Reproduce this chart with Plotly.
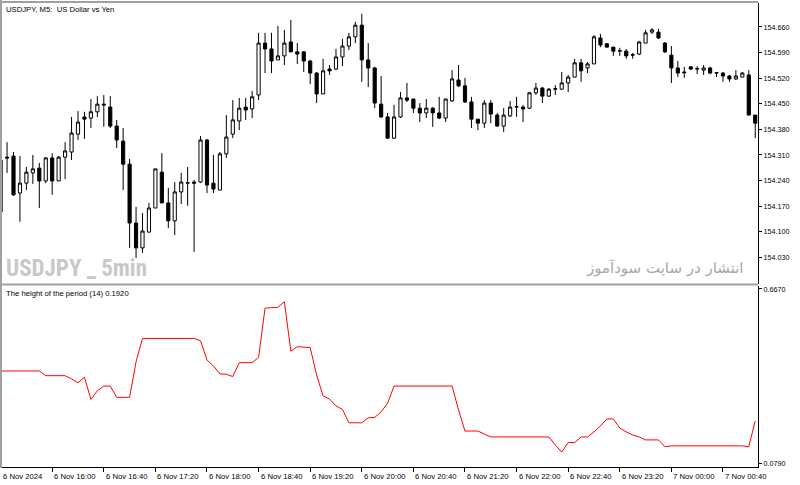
import plotly.graph_objects as go

# ---------------- data ----------------
open_ = [154.154,154.304,154.307,154.206,154.233,154.261,154.274,154.239,154.302,154.239,
         154.304,154.318,154.367,154.414,154.411,154.428,154.449,154.441,154.389,154.348,
         154.285,154.124,154.056,154.099,154.165,154.263,154.179,154.130,154.209,154.233,
         154.236,154.236,154.351,154.233,154.214,154.313,154.367,154.403,154.441,154.436,
         154.474,154.616,154.600,154.570,154.581,154.619,154.592,154.592,154.567,154.534,
         154.477,154.545,154.545,154.578,154.608,154.633,154.665,154.570,154.548,154.449,
         154.414,154.356,154.414,154.466,154.463,154.438,154.425,154.438,154.425,154.411,
         154.458,154.515,154.499,154.455,154.408,154.397,154.452,154.419,154.389,154.417,
         154.441,154.441,154.438,154.480,154.493,154.471,154.490,154.490,154.507,154.523,
         154.562,154.548,154.559,154.630,154.614,154.605,154.594,154.594,154.583,154.586,
         154.616,154.646,154.646,154.616,154.583,154.548,154.537,154.551,154.545,154.542,
         154.548,154.534,154.534,154.526,154.518,154.523,154.529,154.419]
high = [154.310,154.345,154.318,154.307,154.277,154.310,154.288,154.304,154.315,154.307,
        154.345,154.414,154.430,154.428,154.463,154.471,154.474,154.471,154.406,154.384,
        154.299,154.168,154.151,154.179,154.272,154.315,154.220,154.236,154.261,154.277,
        154.242,154.362,154.354,154.310,154.318,154.419,154.460,154.466,154.466,154.485,
        154.644,154.644,154.644,154.663,154.652,154.679,154.616,154.594,154.570,154.537,
        154.573,154.556,154.600,154.627,154.644,154.674,154.696,154.616,154.551,154.526,
        154.425,154.447,154.482,154.507,154.463,154.452,154.463,154.441,154.469,154.463,
        154.542,154.556,154.521,154.469,154.408,154.460,154.460,154.425,154.438,154.458,
        154.469,154.447,154.482,154.507,154.496,154.493,154.501,154.537,154.529,154.573,
        154.573,154.564,154.638,154.641,154.616,154.605,154.603,154.600,154.589,154.622,
        154.652,154.657,154.655,154.619,154.608,154.567,154.551,154.553,154.553,154.556,
        154.551,154.537,154.537,154.529,154.542,154.537,154.542,154.419]
low = [154.151,154.261,154.198,154.127,154.214,154.231,154.165,154.233,154.201,154.239,
       154.244,154.296,154.351,154.354,154.384,154.414,154.387,154.384,154.329,154.214,
       154.056,154.028,154.042,154.099,154.165,154.179,154.110,154.091,154.176,154.171,
       154.045,154.233,154.206,154.206,154.214,154.302,154.356,154.378,154.406,154.411,
       154.460,154.534,154.534,154.570,154.556,154.592,154.559,154.537,154.504,154.452,
       154.477,154.529,154.542,154.553,154.597,154.616,154.510,154.496,154.438,154.411,
       154.354,154.354,154.411,154.455,154.425,154.400,154.411,154.387,154.408,154.400,
       154.455,154.496,154.452,154.384,154.378,154.384,154.397,154.387,154.373,154.414,
       154.414,154.400,154.436,154.474,154.452,154.469,154.474,154.488,154.482,154.523,
       154.510,154.534,154.559,154.605,154.603,154.581,154.581,154.573,154.573,154.583,
       154.616,154.641,154.627,154.589,154.507,154.523,154.521,154.542,154.531,154.529,
       154.531,154.523,154.510,154.510,154.515,154.523,154.419,154.356]
close = [154.296,154.302,154.201,154.233,154.263,154.272,154.239,154.302,154.239,154.304,
         154.321,154.370,154.400,154.408,154.428,154.449,154.447,154.389,154.351,154.285,
         154.124,154.056,154.102,154.165,154.272,154.179,154.130,154.209,154.236,154.234,
         154.233,154.351,154.228,154.217,154.313,154.359,154.406,154.438,154.433,154.469,
         154.616,154.600,154.567,154.581,154.616,154.592,154.586,154.567,154.534,154.477,
         154.540,154.540,154.578,154.608,154.633,154.665,154.570,154.548,154.452,154.414,
         154.356,154.414,154.466,154.460,154.438,154.425,154.438,154.425,154.411,154.463,
         154.518,154.499,154.455,154.408,154.397,154.452,154.422,154.389,154.419,154.441,
         154.442,154.436,154.480,154.493,154.471,154.490,154.491,154.507,154.523,154.562,
         154.540,154.559,154.633,154.611,154.605,154.594,154.595,154.581,154.584,154.619,
         154.644,154.652,154.630,154.592,154.548,154.534,154.535,154.545,154.546,154.548,
         154.534,154.535,154.526,154.518,154.526,154.534,154.419,154.397]
period_height = [0.390,0.390,0.390,0.390,0.390,0.390,0.390,0.374,0.374,0.374,
                 0.374,0.363,0.350,0.369,0.294,0.323,0.339,0.339,0.301,0.301,
                 0.301,0.421,0.500,0.500,0.500,0.500,0.500,0.500,0.500,0.500,
                 0.500,0.492,0.427,0.407,0.380,0.379,0.371,0.418,0.418,0.418,
                 0.436,0.602,0.604,0.605,0.624,0.457,0.472,0.471,0.469,0.376,
                 0.306,0.295,0.272,0.260,0.215,0.215,0.215,0.232,0.233,0.252,
                 0.281,0.339,0.339,0.339,0.339,0.339,0.339,0.339,0.339,0.339,
                 0.339,0.258,0.187,0.187,0.187,0.177,0.167,0.167,0.167,0.167,
                 0.167,0.167,0.167,0.167,0.167,0.167,0.140,0.116,0.148,0.148,
                 0.167,0.167,0.184,0.204,0.228,0.228,0.197,0.184,0.174,0.167,
                 0.157,0.157,0.157,0.134,0.137,0.137,0.137,0.137,0.137,0.137,
                 0.137,0.137,0.137,0.137,0.137,0.137,0.134,0.221]

time_tick_bars = [0, 8, 16, 24, 32, 40, 48, 56, 64, 72, 80, 88, 96, 104, 112]
time_tick_labels = ["6 Nov 2024", "6 Nov 16:00", "6 Nov 16:40", "6 Nov 17:20", "6 Nov 18:00",
                    "6 Nov 18:40", "6 Nov 19:20", "6 Nov 20:00", "6 Nov 20:40", "6 Nov 21:20",
                    "6 Nov 22:00", "6 Nov 22:40", "6 Nov 23:20", "7 Nov 00:00", "7 Nov 00:40"]
price_ticks = [154.030, 154.100, 154.170, 154.240, 154.310, 154.380, 154.450, 154.520, 154.590, 154.660]
ind_ticks = [0.0790, 0.6670]

bars = list(range(len(open_)))

# ---------------- geometry ----------------
W, H = 800, 485
ML, MR, MT, MB = 2, 42, 3, 18
PW = W - ML - MR
PH = H - MT - MB
def py(p):  # pixel y -> paper y
    return (H - MB - p) / PH
def px(p):
    return (p - ML) / PW

FONT = "Liberation Sans, Arial, sans-serif"
TXT = 7.7
xr = [0.217, 117.43]
def bar_to_paper(b):
    return (b - xr[0]) / (xr[1] - xr[0])

fig = go.Figure()
fig.add_trace(go.Candlestick(
    x=bars, open=open_, high=high, low=low, close=close,
    increasing=dict(fillcolor="white", line=dict(color="black", width=1)),
    decreasing=dict(fillcolor="black", line=dict(color="black", width=1)),
    whiskerwidth=0, xaxis="x", yaxis="y", showlegend=False, hoverinfo="skip"))
fig.add_trace(go.Scatter(
    x=bars, y=period_height, mode="lines", line=dict(color="#ff0000", width=1),
    xaxis="x2", yaxis="y2", showlegend=False, hoverinfo="skip"))

annotations = []
for b, lab in zip(time_tick_bars, time_tick_labels):
    annotations.append(dict(x=bar_to_paper(b), xref="paper", y=0, yref="paper", yanchor="top",
                            xanchor="left", xshift=0, yshift=-3, text=lab, showarrow=False,
                            font=dict(family=FONT, size=TXT, color="black")))
annotations += [
    dict(x=px(4), xref="paper", y=py(3), yref="paper", xanchor="left", yanchor="top",
         text="USDJPY, M5:\u00a0\u00a0US Dollar vs Yen", showarrow=False,
         font=dict(family=FONT, size=TXT, color="black")),
    dict(x=px(4), xref="paper", y=py(287), yref="paper", xanchor="left", yanchor="top",
         text="The height of the period (14) 0.1920", showarrow=False,
         font=dict(family=FONT, size=TXT, color="black")),
    dict(x=px(4), xref="paper", y=py(268), yref="paper", xanchor="left", yanchor="middle",
         text="<b>USDJPY _ 5min</b>", showarrow=False,
         font=dict(family="Liberation Sans Narrow, Roboto Condensed, Liberation Sans", size=23, color="#c8c8c8")),
    dict(x=px(746), xref="paper", y=py(268), yref="paper", xanchor="right", yanchor="middle",
         text="انتشار در سایت سودآموز", showarrow=False,
         font=dict(family="DejaVu Sans, Noto Sans", size=15, color="#a8a8a8")),
]

shapes = [
    dict(type="line", xref="paper", yref="paper", x0=px(1), x1=px(1), y0=py(0), y1=py(468),
         line=dict(color="#a0a0a0", width=2)),
    dict(type="line", xref="paper", yref="paper", x0=px(0), x1=px(758), y0=py(2), y1=py(2),
         line=dict(color="#a0a0a0", width=2)),
    dict(type="line", xref="paper", yref="paper", x0=px(0), x1=px(758), y0=py(284.5), y1=py(284.5),
         line=dict(color="#a0a0a0", width=2)),
]

fig.update_layout(
    width=W, height=H, margin=dict(l=ML, r=MR, t=MT, b=MB),
    paper_bgcolor="white", plot_bgcolor="white", showlegend=False,
    xaxis=dict(domain=[0, 1], range=xr, anchor="y", showticklabels=False, showgrid=False,
               zeroline=False, rangeslider=dict(visible=False), ticks=""),
    yaxis=dict(domain=[py(284), 1], range=[153.9572, 154.7256], side="right", anchor="x",
               tickvals=price_ticks, ticktext=[f"{v:.3f}" for v in price_ticks],
               ticks="outside", ticklen=3, tickcolor="black", showline=True, linecolor="black",
               linewidth=1, showgrid=False, zeroline=False,
               tickfont=dict(family=FONT, size=7.2, color="black")),
    xaxis2=dict(domain=[0, 1], range=xr, anchor="y2", showticklabels=False, showgrid=False,
                zeroline=False, tickvals=time_tick_bars, ticks="outside", ticklen=4,
                tickcolor="black", showline=True, linecolor="black", linewidth=1),
    yaxis2=dict(domain=[0, py(286)], range=[0.0655, 0.6771], side="right", anchor="x2",
                tickvals=ind_ticks, ticktext=[f"{v:.4f}" for v in ind_ticks],
                ticks="outside", ticklen=3, tickcolor="black", showline=True, linecolor="black",
                linewidth=1, showgrid=False, zeroline=False,
                tickfont=dict(family=FONT, size=7.2, color="black")),
    annotations=annotations, shapes=shapes,
)

fig.write_html("out.html")
